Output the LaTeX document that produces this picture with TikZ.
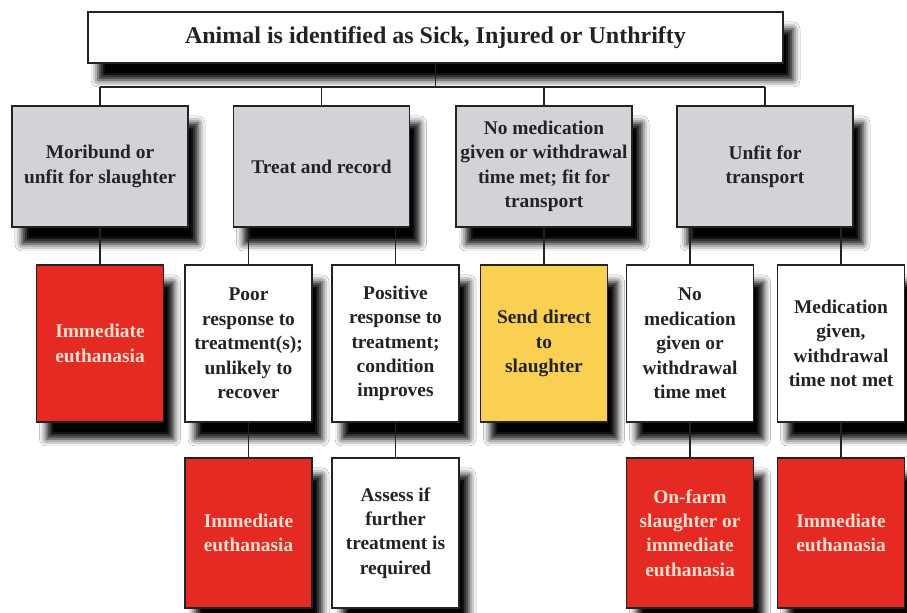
\documentclass[tikz,border=0pt]{standalone}
\usepackage{fontspec}
\setmainfont{Liberation Serif}
\usetikzlibrary{positioning,shadows.blur}
\definecolor{boxgrey}{RGB}{209,211,214}
\definecolor{alarmred}{RGB}{228,42,34}
\definecolor{slaughteryellow}{RGB}{249,208,82}
\definecolor{palepink}{RGB}{250,222,208}
\definecolor{inkgrey}{RGB}{35,35,35}

\begin{document}
\begin{tikzpicture}[x=0.5pt, y=-0.5pt,
    box/.style={draw=inkgrey, line width=0.8pt, align=center, inner sep=1pt,
        text=inkgrey, font=\bfseries\fontsize{9.7}{12.2}\selectfont,
        blur shadow={shadow xshift=5pt, shadow yshift=-8.5pt,
            shadow blur radius=3.5pt, shadow opacity=100}},
    head/.style={box, fill=white, minimum width=347.5pt, minimum height=25.5pt,
        font=\bfseries\fontsize{12}{14}\selectfont},
    grey/.style={box, fill=boxgrey, minimum width=88pt, minimum height=60.5pt},
    wbox/.style={box, fill=white, minimum width=63.5pt, minimum height=78.5pt},
    rbox/.style={wbox, fill=alarmred, text=palepink},
    ybox/.style={wbox, fill=slaughteryellow},
    low/.style={minimum height=75pt},
    link/.style={draw=inkgrey, line width=0.75pt}
]
\useasboundingbox[fill=white] (0,0) rectangle (907,613);

% Top question
\node[head] (sick) at (435.5,37.5) {Animal is identified as Sick, Injured or Unthrifty};

% Row 1: first assessment
\node[grey] (mori)  at (100,166.5) {Moribund or\\unfit for slaughter};
\node[grey] (treat) at (321.5,166.5) {Treat and record};
\node[grey] (fit)   at (544,166.5) {No medication\\given or withdrawal\\time met; fit for\\transport};
\node[grey] (unfit) at (765,166.5) {Unfit for\\transport};

% Row 2: outcomes
\node[rbox] (euthA)  at (100,343.5) {Immediate\\euthanasia};
\node[wbox] (poor)   at (248.5,343.5) {Poor\\response to\\treatment(s);\\unlikely to\\recover};
\node[wbox] (good)   at (395.5,343.5) {Positive\\response to\\treatment;\\condition\\improves};
\node[ybox] (send)   at (544,343.5) {Send direct\\to\\slaughter};
\node[wbox] (nomed)  at (690,343.5) {No\\medication\\given or\\withdrawal\\time met};
\node[wbox] (medic)  at (841,343.5) {Medication\\given,\\withdrawal\\time not met};

% Row 3: follow-up
\node[rbox, low] (euthB)  at (248.5,533) {Immediate\\euthanasia};
\node[wbox, low] (assess) at (395.5,533) {Assess if\\further\\treatment is\\required};
\node[rbox, low] (farm)   at (690,533) {On-farm\\slaughter or\\immediate\\euthanasia};
\node[rbox, low] (euthC)  at (841,533) {Immediate\\euthanasia};

% Connectors
\coordinate (bus) at (0,87);
\draw[link] (sick.south) -- (sick.south |- bus);
\draw[link] (mori.north |- bus) -- (unfit.north |- bus);
\foreach \n in {mori,treat,fit,unfit}
    \draw[link] (\n.north) -- (\n.north |- bus);

\draw[link] (mori.south) -- (euthA.north);
\draw[link] (poor.north |- treat.south) -- (poor.north);
\draw[link] (good.north |- treat.south) -- (good.north);
\draw[link] (fit.south) -- (send.north);
\draw[link] (nomed.north |- unfit.south) -- (nomed.north);
\draw[link] (medic.north |- unfit.south) -- (medic.north);

\draw[link] (poor.south) -- (euthB.north);
\draw[link] (good.south) -- (assess.north);
\draw[link] (nomed.south) -- (farm.north);
\draw[link] (medic.south) -- (euthC.north);
\end{tikzpicture}
\end{document}
